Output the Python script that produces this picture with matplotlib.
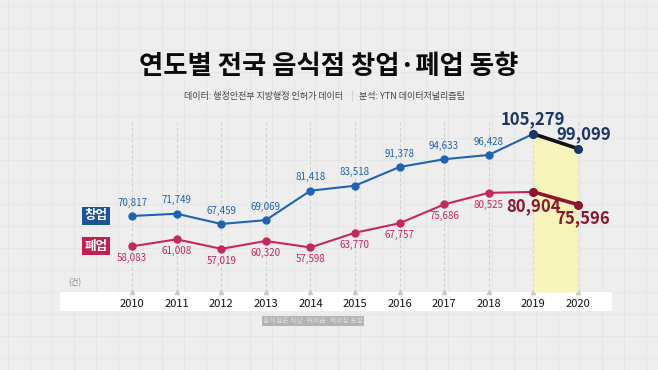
import matplotlib.pyplot as plt
from matplotlib.patches import Rectangle

plt.rcParams['font.family'] = ['Noto Sans CJK KR', 'DejaVu Sans']

years = [2010, 2011, 2012, 2013, 2014, 2015, 2016, 2017, 2018, 2019, 2020]
startups = [70817, 71749, 67459, 69069, 81418, 83518, 91378, 94633, 96428, 105279, 99099]
closures = [58083, 61008, 57019, 60320, 57598, 63770, 67757, 75686, 80525, 80904, 75596]

title = '연도별 전국 음식점 창업·폐업 동향'
source = '데이터: 행정안전부 지방행정 인허가 데이터'
analysis = '분석: YTN 데이터저널리즘팀'
note = '음식점은 식당·커피숍·제과점 포함'

blue = '#2062b4'
navy = '#1b3567'
red = '#c8275a'
darkred = '#8c1630'
bg = '#eeeeee'

W, H = 658, 370
fig = plt.figure(figsize=(W / 100, H / 100), dpi=100)
fig.patch.set_facecolor(bg)

# faint background grid
bgax = fig.add_axes([0, 0, 1, 1], zorder=-5)
bgax.set_xlim(0, W)
bgax.set_ylim(H, 0)
bgax.axis('off')
for gx in range(8, W, 22):
    bgax.axvline(gx, color='#e6e6e6', lw=0.8)
for gy in range(6, H, 22):
    bgax.axhline(gy, color='#e6e6e6', lw=0.8)

# white band behind the year labels
bgax.add_patch(Rectangle((60, 292), 552, 19, facecolor='white', edgecolor='none', zorder=2))

ax = fig.add_axes([92 / W, (H - 292) / H, 526 / W, 172 / H])
ax.set_facecolor('none')
ax.set_xlim(2009.1, 2020.9)
ax.set_ylim(38900, 111100)
for s in ax.spines.values():
    s.set_visible(False)
ax.set_yticks([])
ax.set_xticks(years)
ax.set_xticklabels([str(y) for y in years], fontsize=8, color='#111111')
ax.tick_params(axis='x', length=0, pad=5)

# dashed year guides
for y in years:
    ax.axvline(y, color='#d2d2d2', lw=0.8, ls=(0, (3, 2)), zorder=0)
    ax.plot(y, 38900, marker='^', ms=3, color='#c8c8c8', clip_on=False, zorder=0)

# highlight 2019-2020
ax.fill_between(years[-2:], startups[-2:], 38900, color='#f7f4bb', zorder=1, lw=0)

ax.plot(years[:-1], startups[:-1], color=blue, lw=1.5, marker='o', ms=5, zorder=3)
ax.plot(years[:-1], closures[:-1], color=red, lw=1.5, marker='o', ms=5, zorder=3)
ax.plot(years[-2:], startups[-2:], color='#111111', lw=2.6, zorder=3)
ax.plot(years[-2:], closures[-2:], color=darkred, lw=2.6, zorder=3)
ax.plot(years[-2:], startups[-2:], 'o', color=navy, ms=5.5, zorder=4)
ax.plot(years[-2:], closures[-2:], 'o', color=darkred, ms=5.5, zorder=4)

for x, v in zip(years[:-2], startups[:-2]):
    ax.annotate(f'{v:,}', (x, v), xytext=(0, 6), textcoords='offset points',
                ha='center', va='bottom', fontsize=7, color=blue)
for x, v in zip(years[:-2], closures[:-2]):
    ax.annotate(f'{v:,}', (x, v), xytext=(0, -5), textcoords='offset points',
                ha='center', va='top', fontsize=7, color=red)

ax.annotate(f'{startups[-2]:,}', (years[-2], startups[-2]), xytext=(0, 4), textcoords='offset points',
            ha='center', va='bottom', fontsize=12, fontweight='bold', color=navy)
ax.annotate(f'{startups[-1]:,}', (years[-1], startups[-1]), xytext=(4, 4), textcoords='offset points',
            ha='center', va='bottom', fontsize=12, fontweight='bold', color=navy)
ax.annotate(f'{closures[-2]:,}', (years[-2], closures[-2]), xytext=(0, -4), textcoords='offset points',
            ha='center', va='top', fontsize=12, fontweight='bold', color=darkred)
ax.annotate(f'{closures[-1]:,}', (years[-1], closures[-1]), xytext=(3, -3), textcoords='offset points',
            ha='center', va='top', fontsize=12, fontweight='bold', color=darkred)

# series tags
for label, val, col in [('창업', startups[0], '#1c5597'), ('폐업', closures[0], '#c21f52')]:
    ax.annotate(label, (years[0], val), xytext=(-26, 0), textcoords='offset points',
                ha='center', va='center', fontsize=9, fontweight='bold', color='white',
                bbox=dict(boxstyle='square,pad=0.2', fc=col, ec='none'), annotation_clip=False)

fig.text(75 / W, 1 - 283 / H, '(건)', fontsize=6, color='#8a8a8a', ha='center', va='center')

fig.text(0.5, 1 - 66 / H, title, fontsize=19, fontweight='heavy', color='#0a0a0a',
         ha='center', va='center')
fig.text(343 / W, 1 - 96 / H, source, fontsize=6.5, color='#444444', ha='right', va='center')
fig.text(359 / W, 1 - 96 / H, analysis, fontsize=6.5, color='#444444', ha='left', va='center')
fig.text(352 / W, 1 - 96 / H, '|', fontsize=7, color='#c4c4c4', ha='center', va='center')

fig.text(313 / W, 1 - 321 / H, note, fontsize=5, color='#dcdcdc', ha='center', va='center',
         bbox=dict(boxstyle='square,pad=0.15', fc='#b3b3b3', ec='none'))

fig.savefig('out.png', dpi=100, facecolor=bg)
